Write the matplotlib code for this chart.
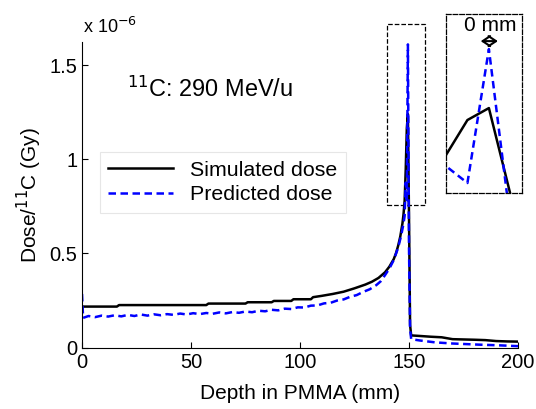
import matplotlib
matplotlib.use('Agg')
import matplotlib.pyplot as plt
from matplotlib.patches import Rectangle

plt.rcParams['font.family'] = ['Liberation Sans', 'DejaVu Sans']

# Dose per 11C ion, in units of 1e-6 Gy
sim_depth = [0, 16, 17, 57, 58, 75, 76, 87, 88, 96, 97, 105, 106, 110, 115, 120,
             125, 130, 133, 136, 139, 141, 143, 144, 145, 146, 147, 147.5, 148,
             148.5, 149, 149.5, 150, 150.5, 151, 155, 160, 165, 170, 180, 185,
             190, 195, 200]
sim_dose = [0.218, 0.218, 0.226, 0.226, 0.234, 0.234, 0.241, 0.241, 0.248, 0.248,
            0.257, 0.257, 0.268, 0.275, 0.285, 0.297, 0.315, 0.335, 0.35, 0.37,
            0.40, 0.43, 0.47, 0.50, 0.54, 0.59, 0.66, 0.71, 0.78, 0.945, 1.165,
            1.24, 0.70, 0.12, 0.065, 0.062, 0.058, 0.055, 0.045, 0.042, 0.04,
            0.035, 0.033, 0.032]

pred_depth = [0, 0.5, 3, 6, 9, 12, 15, 18, 21, 24, 27, 30, 33, 36, 39, 42, 45, 48,
              51, 54, 57, 60, 63, 66, 69, 72, 75, 78, 81, 84, 87, 90, 93, 96, 99,
              102, 105, 108, 111, 114, 117, 120, 123, 126, 129, 132, 135, 137, 139,
              141, 143, 145, 146.5, 147.5, 148, 148.5, 149, 149.5, 150, 150.5, 151,
              155, 162, 170, 182, 192, 200]
pred_dose = [0.285, 0.158, 0.168, 0.162, 0.170, 0.165, 0.172, 0.166, 0.174, 0.168,
             0.176, 0.170, 0.177, 0.172, 0.178, 0.174, 0.181, 0.176, 0.183, 0.178,
             0.184, 0.180, 0.187, 0.182, 0.189, 0.185, 0.192, 0.188, 0.196, 0.193,
             0.201, 0.198, 0.207, 0.205, 0.214, 0.213, 0.223, 0.224, 0.235, 0.238,
             0.250, 0.256, 0.270, 0.279, 0.296, 0.310, 0.332, 0.352, 0.385, 0.420,
             0.465, 0.53, 0.60, 0.66, 0.70, 0.876, 0.77, 1.61, 0.53, 0.10, 0.045,
             0.038, 0.028, 0.022, 0.016, 0.012, 0.008]

xticks = [0, 50, 100, 150, 200]
yticks = [0, 0.5, 1, 1.5]
ytick_labels = ['0', '0.5', '1', '1.5']

fs = 14.5
fig = plt.figure(figsize=(5.36, 4.09), dpi=100)
ax = fig.add_axes([0.153, 0.150, 0.8134, 0.747])

ax.plot(sim_depth, sim_dose, color='k', lw=1.8, label='Simulated dose')
ax.plot(pred_depth, pred_dose, color='b', lw=1.8, dashes=(3, 1.8),
        label='Predicted dose')

ax.set_xlim(0, 200)
ax.set_ylim(0, 1.622)
ax.set_xticks(xticks)
ax.set_yticks(yticks)
ax.set_yticklabels(ytick_labels)
ax.tick_params(direction='in', length=4, labelsize=fs, width=0.8)
for s in ['top', 'right']:
    ax.spines[s].set_visible(False)
ax.set_xlabel('Depth in PMMA (mm)', fontsize=15, labelpad=9)
ax.set_ylabel('Dose/$^{11}$C (Gy)', fontsize=15, labelpad=4)

leg = ax.legend(loc='upper left', bbox_to_anchor=(0.041, 0.64), fontsize=15.4,
                handlelength=3.0, fancybox=False, framealpha=1,
                borderpad=0.4, labelspacing=0.25, borderaxespad=0)
leg.get_frame().set_edgecolor('#e6e6e6')
leg.get_frame().set_linewidth(0.8)

ax.text(20.6, 1.33, '$^{11}$C: 290 MeV/u', fontsize=16.9, va='baseline')
fig.text(83 / 536, 1 - 33 / 409, 'x 10$^{-6}$', fontsize=13, va='baseline')

# dashed box around the Bragg peak
ax.add_patch(Rectangle((139.9, 0.757), 17.4, 0.96, fill=False, ls='--',
                       lw=0.9, ec='k', clip_on=False))

# zoomed inset
ins = fig.add_axes([0.832, 0.528, 0.1418, 0.4377])
ins.plot(sim_depth, sim_dose, color='k', lw=1.8)
ins.plot(pred_depth, pred_dose, color='b', lw=1.8, dashes=(3, 1.8))
ins.set_xlim(148.5, 150.27)
ins.set_ylim(0.707, 1.83)
ins.set_xticks([])
ins.set_yticks([])
for s in ins.spines.values():
    s.set_linestyle('--')
    s.set_linewidth(0.9)
ins.annotate('', xy=(149.31, 1.66), xytext=(149.71, 1.66),
             arrowprops=dict(arrowstyle='<->,head_length=0.45,head_width=0.3',
                             color='k', lw=1.5, mutation_scale=12,
                             shrinkA=0, shrinkB=0))
ins.text(149.52, 1.76, '0 mm', fontsize=15, ha='center', va='center')

fig.savefig('out.png', dpi=100)
